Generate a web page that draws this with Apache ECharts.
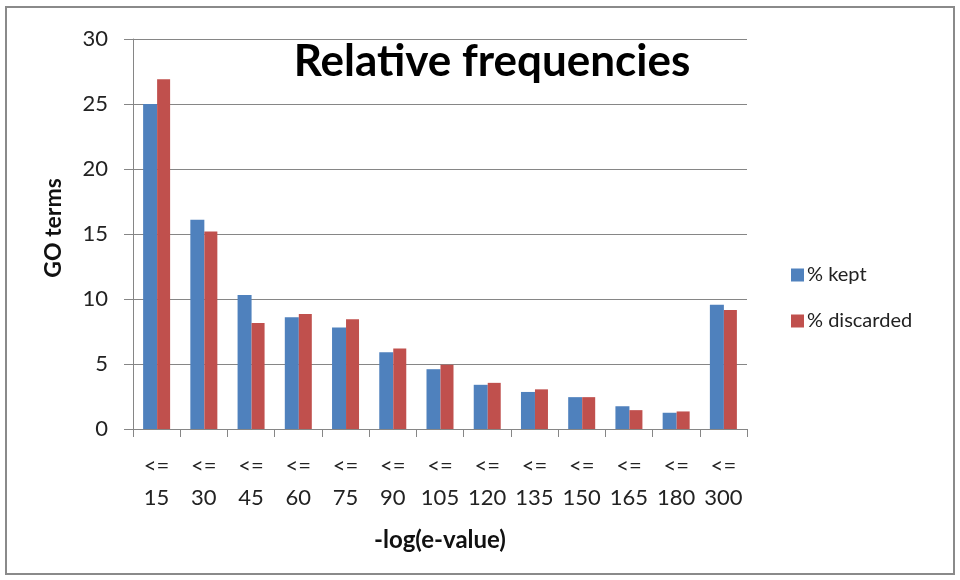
<!DOCTYPE html>
<html>
<head>
<meta charset="utf-8">
<script src="https://cdn.jsdelivr.net/npm/echarts@6/dist/echarts.min.js"></script>
<style>
  html, body { margin: 0; padding: 0; background: #fff; }
  #chart { width: 960px; height: 580px; }
</style>
</head>
<body>
<div id="chart"></div>
<script>
// Upper bounds of the -log(e-value) bins
const binLimits = ['15', '30', '45', '60', '75', '90', '105', '120', '135', '150', '165', '180', '300'];
// Relative frequency (%) of GO terms per bin
const keptPct      = [25.0, 16.1, 10.3, 8.6, 7.8, 5.9, 4.6, 3.4, 2.85, 2.45, 1.75, 1.25, 9.55];
const discardedPct = [26.9, 15.2, 8.15, 8.85, 8.45, 6.2, 4.95, 3.55, 3.05, 2.45, 1.45, 1.35, 9.15];
const yTicks = [0, 5, 10, 15, 20, 25, 30];

const FONT = 'Lato, "Open Sans", sans-serif';
const chart = echarts.init(document.getElementById('chart'), null, { renderer: 'canvas' });

chart.setOption({
  animation: false,
  backgroundColor: '#ffffff',
  graphic: [
    {
      type: 'rect',
      shape: { x: 6, y: 7, width: 948, height: 567 },
      style: { fill: 'none', stroke: '#8a8a8a', lineWidth: 2 },
      z: -1
    }
  ],
  title: {
    text: 'Relative frequencies',
    left: 487,
    top: 35,
    textAlign: 'center',
    textStyle: { fontFamily: FONT, fontWeight: 'bold', fontSize: 44, color: '#000' }
  },
  legend: {
    orient: 'vertical',
    left: 786,
    top: 260,
    itemWidth: 13,
    itemHeight: 13,
    itemGap: 26,
    icon: 'rect',
    textStyle: { fontFamily: FONT, fontSize: 20, color: '#222', padding: [0, 0, 0, -2] },
    data: ['% kept', '% discarded']
  },
  grid: { left: 133, right: 213, top: 39, bottom: 151, containLabel: false },
  xAxis: {
    type: 'category',
    data: binLimits,
    name: '-log(e-value)',
    nameLocation: 'middle',
    nameGap: 99,
    nameTextStyle: { fontFamily: FONT, fontWeight: 'bold', fontSize: 24, color: '#111' },
    axisLine: { lineStyle: { color: '#868686', width: 1 } },
    axisTick: { show: true, alignWithLabel: false, length: 8, lineStyle: { color: '#868686' } },
    axisLabel: {
      interval: 0,
      margin: 21,
      fontFamily: FONT,
      fontSize: 22,
      color: '#222',
      lineHeight: 32,
      formatter: v => '<=\n' + v
    }
  },
  yAxis: {
    type: 'value',
    min: yTicks[0],
    max: yTicks[yTicks.length - 1],
    interval: 5,
    name: 'GO terms',
    nameLocation: 'middle',
    nameGap: 68,
    nameRotate: 90,
    nameTextStyle: { fontFamily: FONT, fontWeight: 'bold', fontSize: 23, color: '#111', padding: [0, 0, 0, 12] },
    axisLine: { show: true, lineStyle: { color: '#868686', width: 1 } },
    axisTick: { show: true, length: 9, inside: false, lineStyle: { color: '#868686' } },
    axisLabel: { margin: 25, fontFamily: FONT, fontSize: 22, color: '#222' },
    splitLine: { show: true, lineStyle: { color: '#868686', width: 1 } }
  },
  series: [
    {
      name: '% kept',
      type: 'bar',
      data: keptPct,
      barWidth: 14,
      barGap: '0%',
      itemStyle: { color: '#4F81BD' }
    },
    {
      name: '% discarded',
      type: 'bar',
      data: discardedPct,
      barWidth: 13,
      barGap: '0%',
      itemStyle: { color: '#C0504D' }
    }
  ]
});
</script>
</body>
</html>
